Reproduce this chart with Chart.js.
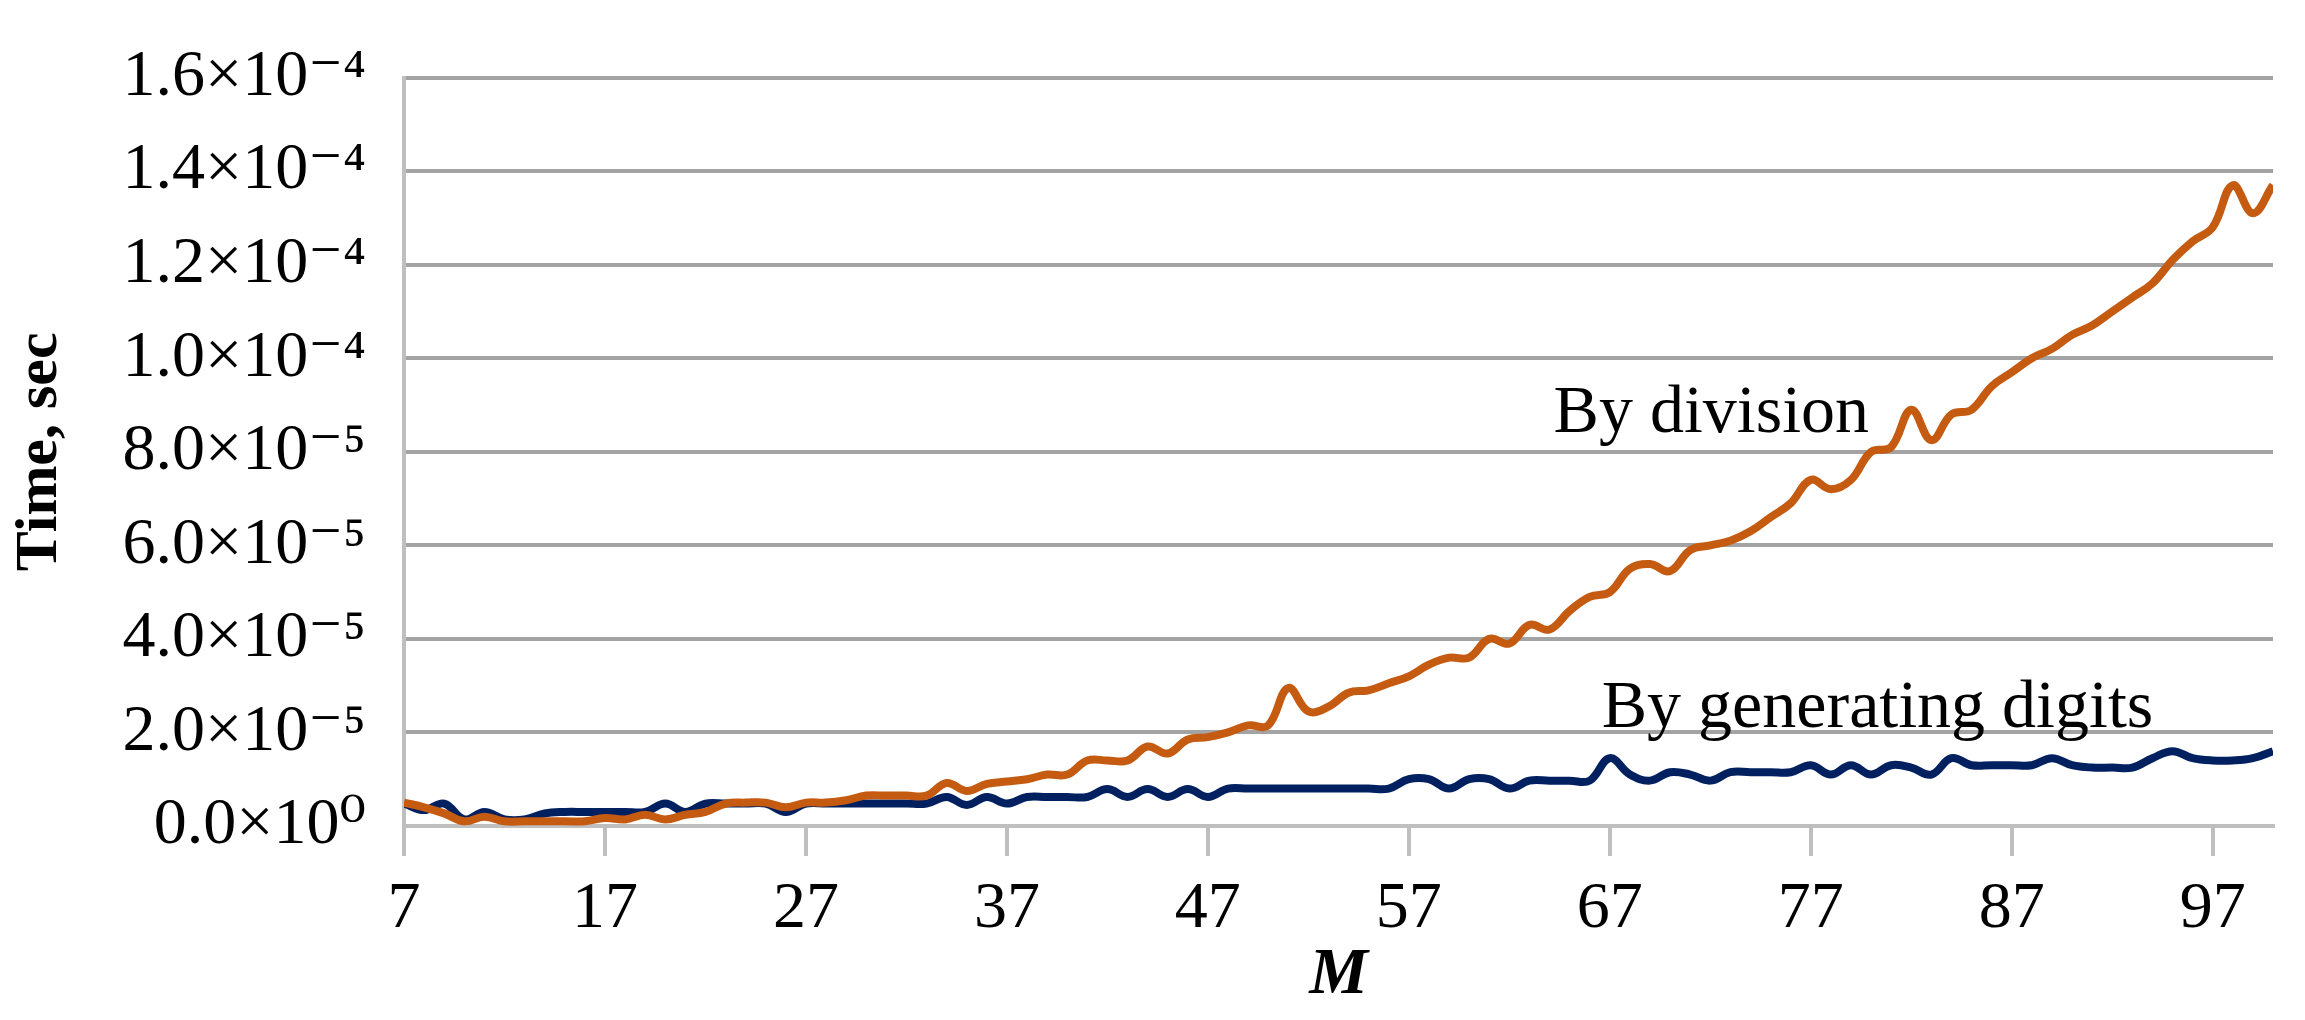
<!DOCTYPE html>
<html>
<head>
<meta charset="utf-8">
<script src="https://cdn.jsdelivr.net/npm/chart.js@4/dist/chart.umd.min.js"></script>
<style>html,body{margin:0;background:#fff;} canvas{display:block;}</style>
</head>
<body>
<canvas id="c" width="2305" height="1020"></canvas>
<script>
// values are in units of 1e-5 sec
const mValues = [];
for (let m = 7; m <= 100; m++) mValues.push(m);

const byDivision = [
  0.5, 0.4, 0.27, 0.1, 0.2, 0.1, 0.1, 0.1, 0.1, 0.1,
  0.17, 0.14, 0.24, 0.14, 0.24, 0.3, 0.48, 0.5, 0.5, 0.4,
  0.5, 0.5, 0.55, 0.65, 0.65, 0.65, 0.65, 0.92, 0.75, 0.9,
  0.95, 1.0, 1.1, 1.1, 1.4, 1.4, 1.4, 1.7, 1.55, 1.85,
  1.9, 2.0, 2.15, 2.15, 2.95, 2.45, 2.55, 2.85, 2.9, 3.05,
  3.2, 3.45, 3.6, 3.6, 4.0, 3.9, 4.3, 4.2, 4.6, 4.9,
  5.0, 5.5, 5.6, 5.45, 5.9, 6.0, 6.1, 6.3, 6.6, 6.9,
  7.4, 7.2, 7.4, 8.0, 8.1, 8.9, 8.25, 8.8, 8.9, 9.4,
  9.7, 10.0, 10.2, 10.5, 10.7, 11.0, 11.3, 11.6, 12.1, 12.5,
  12.8, 13.7, 13.1, 13.7
];

const byGenerating = [
  0.48, 0.34, 0.48, 0.14, 0.3, 0.14, 0.14, 0.27, 0.3, 0.3,
  0.3, 0.3, 0.3, 0.48, 0.3, 0.48, 0.48, 0.48, 0.48, 0.3,
  0.48, 0.48, 0.48, 0.48, 0.48, 0.48, 0.48, 0.62, 0.45, 0.62,
  0.48, 0.62, 0.62, 0.62, 0.62, 0.79, 0.62, 0.79, 0.62, 0.79,
  0.62, 0.8, 0.8, 0.8, 0.8, 0.8, 0.8, 0.8, 0.8, 0.8,
  1.0, 1.0, 0.8, 1.0, 1.0, 0.8, 0.97, 0.97, 0.97, 0.97,
  1.45, 1.1, 0.97, 1.15, 1.1, 0.97, 1.15, 1.15, 1.15, 1.15,
  1.3, 1.1, 1.3, 1.1, 1.3, 1.25, 1.1, 1.45, 1.3, 1.3,
  1.3, 1.3, 1.45, 1.3, 1.25, 1.25, 1.25, 1.45, 1.6, 1.45,
  1.4, 1.4, 1.45, 1.6
];

const xTicks = [7, 17, 27, 37, 47, 57, 67, 77, 87, 97];
const yTickLabels = {
  0: '0.0×10⁰', 2: '2.0×10⁻⁵', 4: '4.0×10⁻⁵', 6: '6.0×10⁻⁵', 8: '8.0×10⁻⁵',
  10: '1.0×10⁻⁴', 12: '1.2×10⁻⁴', 14: '1.4×10⁻⁴', 16: '1.6×10⁻⁴'
};

const serif = '"Liberation Serif", "DejaVu Serif", serif';

// text labels placed at data coordinates
const notes = [
  { text: 'By division', x: 64.2, y: 8.8 },
  { text: 'By generating digits', x: 66.6, y: 2.5 }
];

const notesPlugin = {
  id: 'notes',
  afterDatasetsDraw(chart) {
    const { ctx, scales } = chart;
    ctx.save();
    ctx.font = '68px ' + serif;
    ctx.fillStyle = '#000';
    ctx.textBaseline = 'middle';
    ctx.textAlign = 'left';
    notes.forEach(n => ctx.fillText(n.text, scales.x.getPixelForValue(n.x), scales.y.getPixelForValue(n.y)));
    ctx.restore();
  }
};

new Chart(document.getElementById('c'), {
  type: 'line',
  data: {
    labels: mValues,
    datasets: [
      { label: 'By division', data: mValues.map((m, i) => ({ x: m, y: byDivision[i] })),
        borderColor: '#C55A11', borderWidth: 8, pointRadius: 0, tension: 0.4 },
      { label: 'By generating digits', data: mValues.map((m, i) => ({ x: m, y: byGenerating[i] })),
        borderColor: '#002060', borderWidth: 8, pointRadius: 0, tension: 0.4 }
    ]
  },
  options: {
    responsive: false,
    animation: false,
    devicePixelRatio: 1,
    layout: { padding: { top: 16, right: 32, left: 0, bottom: 0 } },
    plugins: { legend: { display: false }, tooltip: { enabled: false } },
    scales: {
      x: {
        type: 'linear', min: 7, max: 100,
        afterBuildTicks: s => { s.ticks = xTicks.map(v => ({ value: v })); },
        afterFit: s => { s.height = 194; },
        grid: { drawOnChartArea: false, color: '#bfbfbf', lineWidth: 4, tickLength: 30 },
        border: { color: '#bfbfbf', width: 4 },
        ticks: { color: '#000', font: { family: serif, size: 66 }, padding: 14, maxRotation: 0 },
        title: { display: true, text: 'M', color: '#000', padding: { top: -14 },
          font: { family: serif, size: 66, weight: 'bold', style: 'italic' } }
      },
      y: {
        min: 0, max: 16,
        afterBuildTicks: s => { s.ticks = Object.keys(yTickLabels).map(v => ({ value: +v })); },
        afterFit: s => { s.width = 404; },
        grid: { color: '#a3a3a3', lineWidth: 4, drawTicks: false },
        border: { display: true, color: '#bfbfbf', width: 4 },
        ticks: { color: '#000', font: { family: serif, size: 66 }, padding: 38,
          callback: v => yTickLabels[v] },
        title: { display: true, text: 'Time, sec', color: '#000', padding: { bottom: 0 },
          font: { family: serif, size: 60, weight: 'bold' } }
      }
    }
  },
  plugins: [notesPlugin]
});
</script>
</body>
</html>
